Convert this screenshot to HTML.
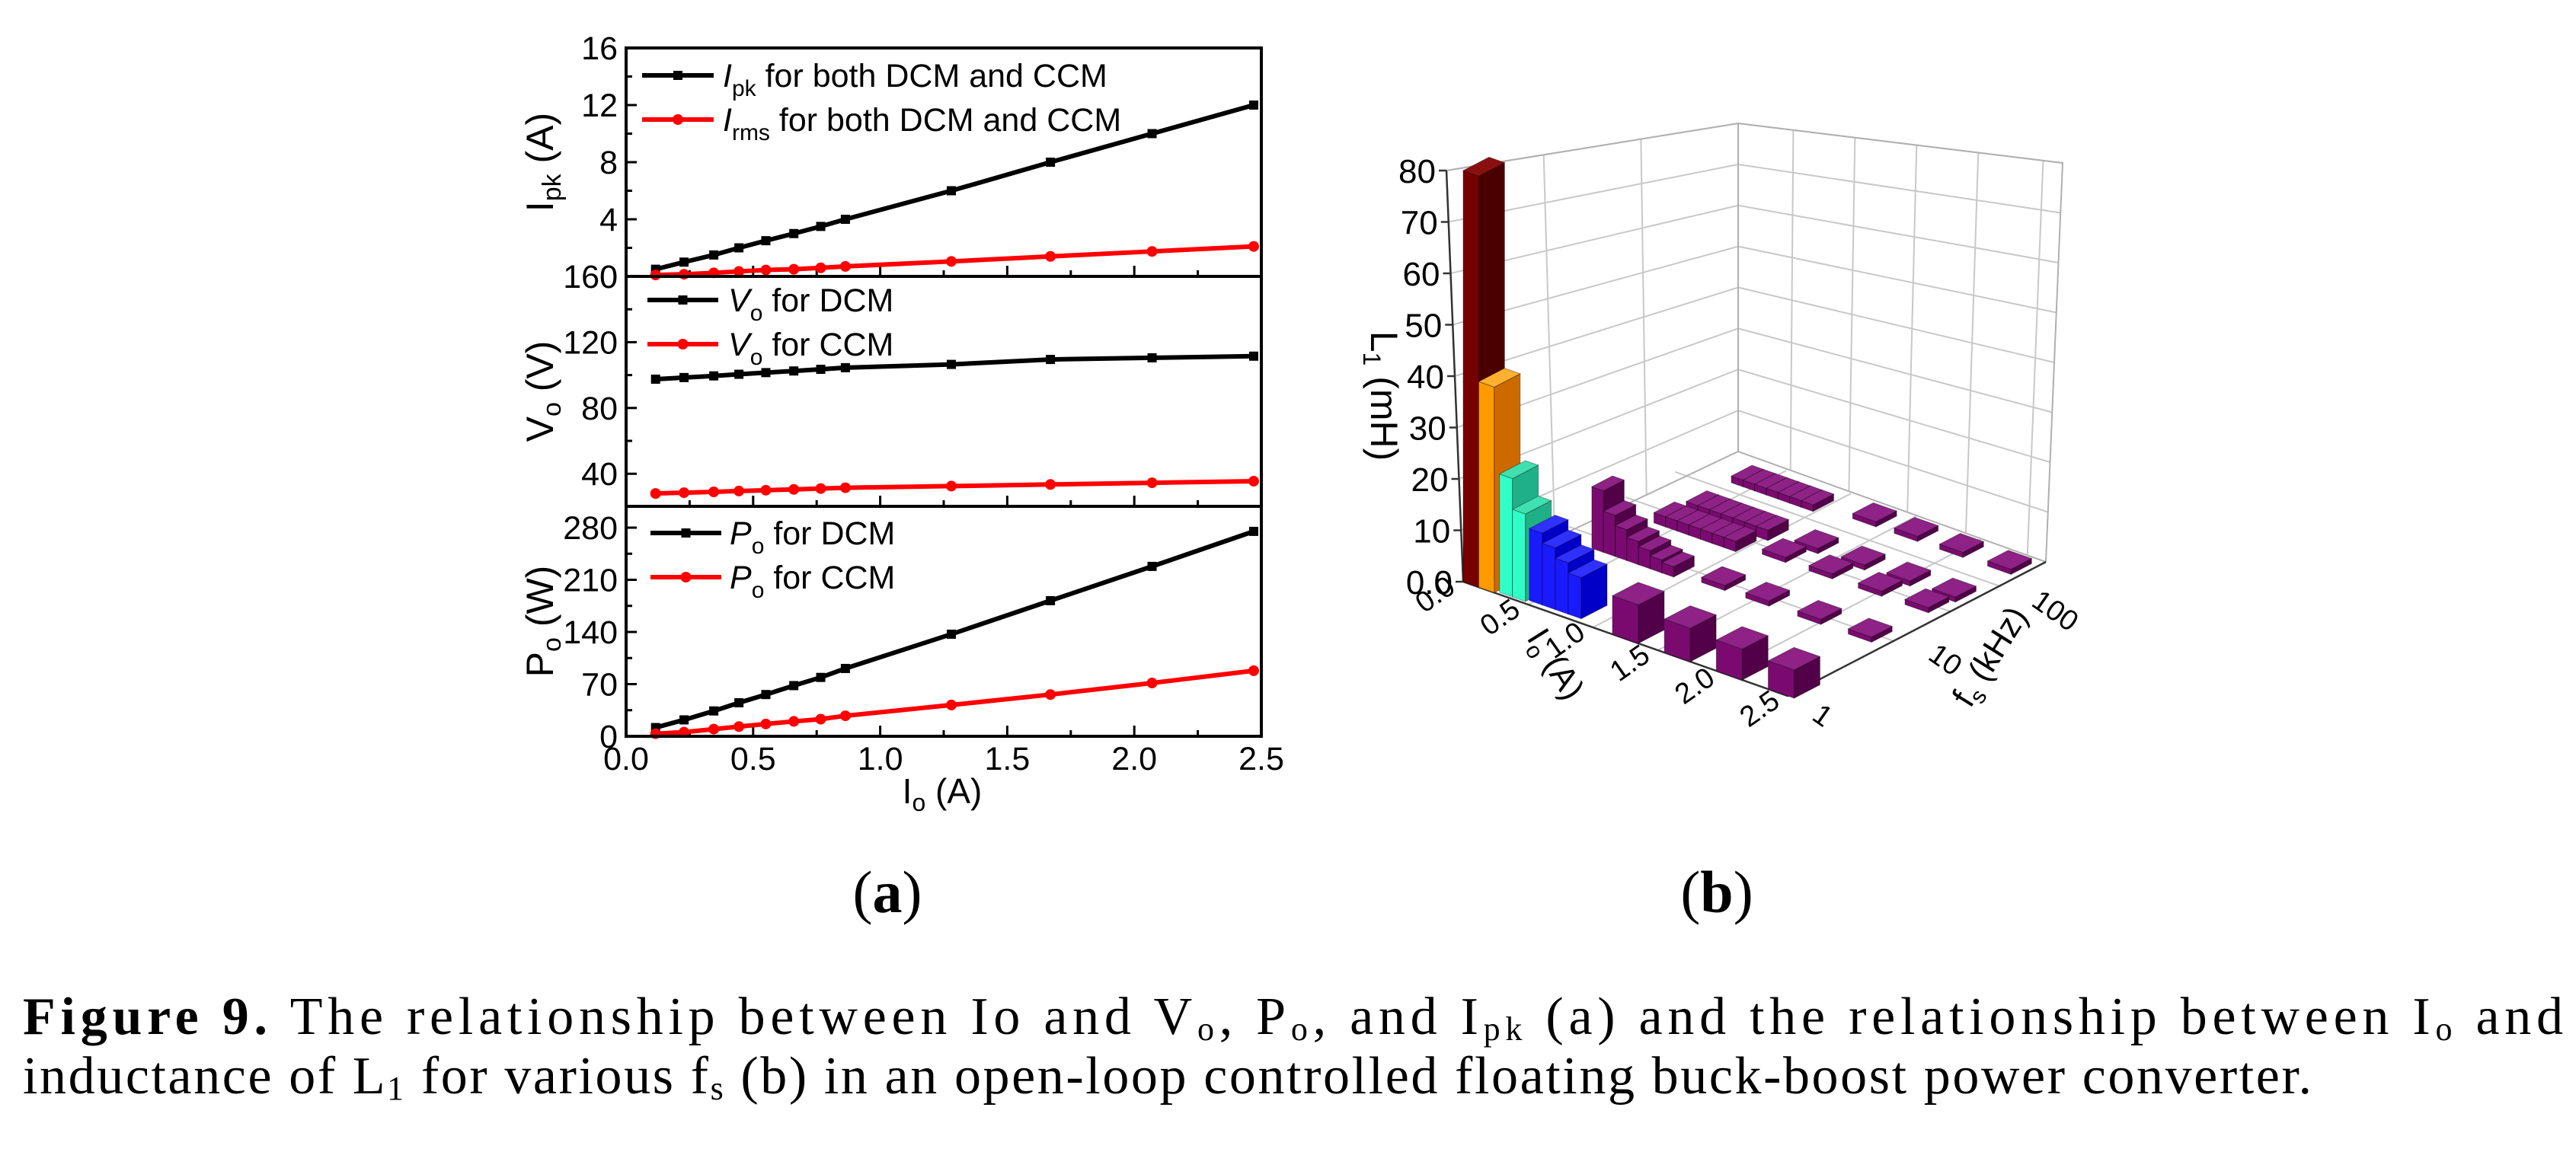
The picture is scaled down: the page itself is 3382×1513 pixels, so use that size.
<!DOCTYPE html>
<html><head><meta charset="utf-8"><style>
html,body{margin:0;padding:0;background:#fff;}
svg{display:block;font-family:"Liberation Sans",Arial,sans-serif;}
</style></head><body>
<svg id="fig" width="3382" height="1513" viewBox="0 0 3382 1513" xmlns="http://www.w3.org/2000/svg">
<rect x="0" y="0" width="3382" height="1513" fill="#fff"/>
<g id="chartA"></g>
<g id="chartB"></g>
<text x="1165" y="1198" font-family="Liberation Serif,serif" font-size="78" text-anchor="middle">(<tspan font-weight="bold">a</tspan>)</text>
<text x="2254" y="1198" font-family="Liberation Serif,serif" font-size="78" text-anchor="middle">(<tspan font-weight="bold">b</tspan>)</text>
<g font-family="Liberation Serif,serif" font-size="70">
<text x="30" y="1358" textLength="3335" lengthAdjust="spacing"><tspan font-weight="bold">Figure 9.</tspan> The relationship between Io and V<tspan font-size="44" dy="8">o</tspan><tspan dy="-8">, P</tspan><tspan font-size="44" dy="8">o</tspan><tspan dy="-8">, and I</tspan><tspan font-size="44" dy="8">pk</tspan><tspan dy="-8"> (a) and the relationship between I</tspan><tspan font-size="44" dy="8">o</tspan><tspan dy="-8"> and</tspan></text>
<text x="30" y="1436" textLength="3005" lengthAdjust="spacing">inductance of L<tspan font-size="44" dy="8">1</tspan><tspan dy="-8"> for various f</tspan><tspan font-size="44" dy="8">s</tspan><tspan dy="-8"> (b) in an open-loop controlled floating buck-boost power converter.</tspan></text>
</g>
</svg>
<script>
// ---------- Chart (a) data ----------
const ioValues = [0.116,0.228,0.345,0.444,0.55,0.66,0.766,0.863,1.28,1.67,2.07,2.47];
const ipkValues = [0.5,1,1.5,2,2.5,3,3.5,4,6,8,10,12];
const irmsValues = [0.1,0.15,0.25,0.35,0.45,0.5,0.6,0.7,1.05,1.4,1.75,2.1];
const voDcmValues = [97.5,98.5,99.5,100.5,101.5,102.5,103.5,104.5,106.5,109.5,110.5,111.5];
const voCcmValues = [28,28.5,29,29.5,30,30.5,31,31.5,32.5,33.5,34.5,35.5];
const poDcmValues = [11.7,22,34,45,56,68,79,91,137,182,228,275];
const poCcmValues = [3.4,5.5,9.6,13,16.5,20,23,27.5,42,56,71.5,88];
const xTicks = [0,0.5,1,1.5,2,2.5];
const ipkTicks = [4,8,12,16];
const voTicks = [40,80,120,160];
const poTicks = [0,70,140,210,280];

// ---------- Chart (b) data ----------
const barIo = [0.06,0.18,0.31,0.41,0.52,0.62,0.72,0.82, 1.25,1.65,2.05,2.45,
  0.34,0.43,0.52,0.61,0.70,0.79,0.88,
  0.40,0.49,0.58,0.67,0.76,0.85,0.94, 0.45,0.54,0.63,0.72,0.81,0.90,0.99,
  0.40,0.49,0.58,0.67,0.76,0.85,0.94,
  1.19,1.53,1.93,2.32, 1.22,1.58,1.96,2.32, 1.29,1.65,2.0,2.35, 1.32,1.64,1.99,2.36];
const barFs = [0.05,0.05,0.06,0.06,0.07,0.07,0.07,0.07, 0.05,0.05,0.05,0.05,
  0.39,0.39,0.39,0.39,0.39,0.39,0.39,
  0.6,0.6,0.6,0.6,0.6,0.6,0.6, 0.7,0.7,0.7,0.7,0.7,0.7,0.7,
  0.9,0.9,0.9,0.9,0.9,0.9,0.9,
  0.41,0.41,0.41,0.41, 0.63,0.63,0.63,0.63, 0.72,0.72,0.72,0.72, 0.93,0.93,0.93,0.93];
const barL1 = [80,40,23,17,14,12,10,8, 7.5,6.5,6,5.5,
  12,8,6,4.5,3.5,2.5,2,
  2,2,2,2,2,2,2, 2,2,2,2,2,2,2,
  1.3,1.3,1.3,1.3,1.3,1.3,1.3,
  1,1,1,1, 1,1,1,1, 1,1,1,1, 1,1,1,1];
const barGroup = ['darkred','orange','teal','teal','blue','blue','blue','blue','purple','purple','purple','purple',
  'purple','purple','purple','purple','purple','purple','purple',
  'purple','purple','purple','purple','purple','purple','purple','purple','purple','purple','purple','purple','purple','purple',
  'purple','purple','purple','purple','purple','purple','purple',
  'small','small','small','small','small','small','small','small','small','small','small','small','small','small','small','small'];
const zTicks = [0,10,20,30,40,50,60,70,80];
const zTickLabels = ['0.0','10','20','30','40','50','60','70','80'];
const ioTickLabels = ['0.0','0.5','1.0','1.5','2.0','2.5'];
const fsTickLabels = ['1','10','100'];

const NS = 'http://www.w3.org/2000/svg';
function mk(tag, attrs, parent){const e=document.createElementNS(NS,tag);for(const k in attrs)e.setAttribute(k,attrs[k]);parent.appendChild(e);return e;}

// ===== Chart A =====
const A = document.getElementById('chartA');
const XL=822, XR=1656;
const xs = v => XL + v/2.5*(XR-XL);
const panels = [
 {top:63,bot:363,min:0,max:16,ticks:ipkTicks,s1:ipkValues,s2:irmsValues,name:'ipk',title:'I',sub:'pk',unit:' (A)',
  leg:[['I','pk',' for both DCM and CCM'],['I','rms',' for both DCM and CCM']],ly:[99,157],lx:[843,937,949]},
 {top:363,bot:665,min:20.2,max:160,ticks:voTicks,s1:voDcmValues,s2:voCcmValues,name:'vo',title:'V',sub:'o',unit:' (V)',
  leg:[['V','o',' for DCM'],['V','o',' for CCM']],ly:[394,452],lx:[850,943,956]},
 {top:665,bot:967,min:0,max:308.6,ticks:poTicks,s1:poDcmValues,s2:poCcmValues,name:'po',title:'P',sub:'o',unit:' (W)',
  leg:[['P','o',' for DCM'],['P','o',' for CCM']],ly:[700,758],lx:[854,947,958]}
];
panels.forEach((p,pi)=>{
  const g = mk('g',{},A);
  
  
  const ys = v => p.bot - (v-p.min)/(p.max-p.min)*(p.bot-p.top);
  for(let i=0;i<p.ticks.length;i++){
    const y=ys(p.ticks[i]);
    mk('line',{x1:XL,x2:XL+14,y1:y,y2:y,stroke:'#000','stroke-width':3},g);
    const t=mk('text',{x:811,y:y+15,'font-size':43,'text-anchor':'end'},g);
    t.textContent=p.ticks[i];
    
    
    const step = p.ticks.length>1 ? p.ticks[1]-p.ticks[0] : 0;
    const my = ys(p.ticks[i]-step/2);
    if(my<p.bot && my>p.top) mk('line',{x1:XL,x2:XL+8,y1:my,y2:my,stroke:'#000','stroke-width':3},g);
  }
  if(pi===0){const t=mk('text',{x:811,y:p.bot+15,'font-size':43,'text-anchor':'end'},g);t.textContent='0';}
  xTicks.forEach(v=>{mk('line',{x1:xs(v),x2:xs(v),y1:p.bot,y2:p.bot-14,stroke:'#000','stroke-width':3},g);
    if(v<2.5) mk('line',{x1:xs(v+0.25),x2:xs(v+0.25),y1:p.bot,y2:p.bot-8,stroke:'#000','stroke-width':3},g);});
  const ser = [[p.s1,'#000','sq'],[p.s2,'#ff0000','ci']];
  ser.forEach((s,si)=>{
    const pts = ioValues.map((x,i)=>xs(x)+','+ys(s[0][i])).join(' ');
    const pl = mk('polyline',{points:pts,fill:'none',stroke:s[1],'stroke-width':6},g);
    
    
    ioValues.forEach((x,i)=>{
      let m;
      if(s[2]==='sq') m=mk('rect',{x:xs(x)-6,y:ys(s[0][i])-6,width:12,height:12,fill:s[1]},g);
      else m=mk('circle',{cx:xs(x),cy:ys(s[0][i]),r:7,fill:s[1]},g);
      
      
    });
    const ly=p.ly[si];
    mk('line',{x1:p.lx[0],x2:p.lx[1],y1:ly,y2:ly,stroke:s[1],'stroke-width':6},g);
    if(s[2]==='sq') mk('rect',{x:(p.lx[0]+p.lx[1])/2-6,y:ly-6,width:12,height:12,fill:s[1]},g);
    else mk('circle',{cx:(p.lx[0]+p.lx[1])/2,cy:ly,r:7,fill:s[1]},g);
    const lt=mk('text',{x:p.lx[2],y:ly+15,'font-size':43},g);
    
    
    const L=p.leg[si];
    lt.innerHTML='<tspan font-style="italic">'+L[0]+'</tspan><tspan font-size="30" dy="12">'+L[1]+'</tspan><tspan dy="-12">'+L[2]+'</tspan>';
  });
  const cy=(p.top+p.bot)/2;
  const yt=mk('text',{x:0,y:0,'font-size':50,'text-anchor':'middle',transform:'translate(726,'+cy+') rotate(-90)'},g);
  
  
  yt.innerHTML=p.title+'<tspan font-size="34" dy="10">'+p.sub+'</tspan><tspan dy="-10">'+p.unit+'</tspan>';
});
mk('rect',{x:XL,y:63,width:XR-XL,height:904,fill:'none',stroke:'#000','stroke-width':4},A);
mk('line',{x1:XL,x2:XR,y1:363,y2:363,stroke:'#000','stroke-width':4},A);
mk('line',{x1:XL,x2:XR,y1:665,y2:665,stroke:'#000','stroke-width':4},A);
xTicks.forEach(v=>{const t=mk('text',{x:xs(v),y:1011,'font-size':43,'text-anchor':'middle'},A);t.textContent=v.toFixed(1);
  });
const xt=mk('text',{x:1237,y:1055,'font-size':46,'text-anchor':'middle'},A);

xt.innerHTML='I<tspan font-size="32" dy="10">o</tspan><tspan dy="-10"> (A)</tspan>';

// ===== Chart B =====
const B = document.getElementById('chartB');
const Lc=[1921,764], Fc=[2347,914], Rc=[2686,738], Bc=[2282,593];
const Lt=[1899,224], Bt=[2282,162], Rt=[2708,214];
const ZS=6.75;
function P(io,f,z){return [Lc[0]+io/2.5*(Fc[0]-Lc[0])+f*(Rc[0]-Fc[0]), Lc[1]+io/2.5*(Fc[1]-Lc[1])+f*(Rc[1]-Fc[1])-z*ZS];}
const lerp=(a,b,t)=>[a[0]+(b[0]-a[0])*t,a[1]+(b[1]-a[1])*t];
const grid=mk('g',{stroke:'#c8c8c8','stroke-width':2,fill:'none'},B);

for(let k=1;k<=8;k++){const t=k/8;
  const a=lerp(Lc,Lt,t), b=lerp(Bc,Bt,t), c=lerp(Rc,Rt,t);
  mk('polyline',{points:a+' '+b+' '+c},grid);}
[1/3,2/3].forEach(t=>{const a=lerp(Lc,Bc,t),b=lerp(Lt,Bt,t);mk('line',{x1:a[0],y1:a[1],x2:b[0],y2:b[1]},grid);});
[0.17,0.36,0.55,0.74,0.94].forEach(t=>{const a=lerp(Bc,Rc,t),b=lerp(Bt,Rt,t);mk('line',{x1:a[0],y1:a[1],x2:b[0],y2:b[1]},grid);});
[0.5,1,1.5,2].forEach(io=>{const a=P(io,0,0),b=P(io,1,0);mk('line',{x1:a[0],y1:a[1],x2:b[0],y2:b[1]},grid);});
[0.41,0.63,0.82].forEach(f=>{const a=P(0,f,0),b=P(2.5,f,0);mk('line',{x1:a[0],y1:a[1],x2:b[0],y2:b[1]},grid);});
mk('polyline',{points:Lc+' '+Lt+' '+Bt+' '+Rt+' '+Rc,stroke:'#b0b0b0'},grid);
mk('line',{x1:Bc[0],y1:Bc[1],x2:Bt[0],y2:Bt[1],stroke:'#b0b0b0'},grid);
mk('polyline',{points:Lc+' '+Bc+' '+Rc,stroke:'#b0b0b0'},grid);
const ax=mk('g',{stroke:'#333','stroke-width':2.5,fill:'none'},B);
mk('line',{x1:Lc[0],y1:Lc[1],x2:Lt[0],y2:Lt[1]},ax);
mk('polyline',{points:Lc+' '+Fc+' '+Rc},ax);
const faceColors={darkred:['#760000','#4a0000','#8a1010'],orange:['#ff9a00','#cc6a00','#ffb030'],teal:['#30ffc8','#20b088','#40e0b0'],
 blue:['#1a1aff','#0000c8','#3030ff'],purple:['#7a0a70','#520048','#8e2286'],small:['#7a0a70','#520048','#8e2286']};
const sizes={darkred:[0.12,0.1],orange:[0.12,0.1],teal:[0.1,0.1],blue:[0.1,0.1],purple:[0.09,0.08],small:[0.18,0.08]};
const order=barIo.map((v,i)=>i).sort((a,b)=>(barIo[a]/2.5-barFs[a])-(barIo[b]/2.5-barFs[b]));
order.forEach(i=>{
  const grp=barGroup[i];
  let [w,d]=sizes[grp];
  if(grp==='purple' && barIo[i]>1.1) {w=0.2; d=0.1;}
  const io0=barIo[i]-w/2, io1=barIo[i]+w/2, f0=barFs[i]-d/2, f1=barFs[i]+d/2, h=barL1[i];
  const c=faceColors[grp];
  const g=mk('g',{stroke:'rgba(0,0,0,0.35)','stroke-width':1},B);
  
  
  const pp=a=>a.map(q=>q.join(',')).join(' ');
  mk('polygon',{points:pp([P(io0,f0,0),P(io1,f0,0),P(io1,f0,h),P(io0,f0,h)]),fill:c[0]},g);
  mk('polygon',{points:pp([P(io1,f0,0),P(io1,f1,0),P(io1,f1,h),P(io1,f0,h)]),fill:c[1]},g);
  mk('polygon',{points:pp([P(io0,f0,h),P(io1,f0,h),P(io1,f1,h),P(io0,f1,h)]),fill:c[2]},g);
});
zTicks.forEach((z,i)=>{const y=Lc[1]-z*ZS, x=Lc[0]+(Lt[0]-Lc[0])*z/80;
  mk('line',{x1:x-10,x2:x,y1:y,y2:y,stroke:'#333','stroke-width':2.5},B);
  const t=mk('text',{x:x-14,y:y+16,'font-size':44,'text-anchor':'end'},B);
  t.textContent=zTickLabels[i];
  });
const zt=mk('text',{x:0,y:0,'font-size':50,'text-anchor':'middle',transform:'translate(1800,520) rotate(90)'},B);

zt.innerHTML='L<tspan font-size="32" dy="10">1</tspan><tspan dy="-10"> (mH)</tspan>';
ioTickLabels.forEach((s,i)=>{const p=P(i*0.5,0,0);
  const t=mk('text',{x:0,y:0,'font-size':38,'text-anchor':'end',transform:'translate('+(p[0]-8)+','+(p[1]+12)+') rotate(-35)'},B);
  t.textContent=s;});
const it=mk('text',{x:0,y:0,'font-size':44,'text-anchor':'middle',transform:'translate(2030,880) rotate(58)'},B);

it.innerHTML='I<tspan font-size="30" dy="10">o</tspan><tspan dy="-10"> (A)</tspan>';
const fsPos=[0,0.45,0.85];
fsTickLabels.forEach((s,i)=>{const p=P(2.5,fsPos[i],0);
  const t=mk('text',{x:0,y:0,'font-size':38,'text-anchor':'start',transform:'translate('+(p[0]+30)+','+(p[1]+30)+') rotate(35)'},B);
  t.textContent=s;});
const ft=mk('text',{x:0,y:0,'font-size':44,'text-anchor':'middle',transform:'translate(2625,870) rotate(-58)'},B);

ft.innerHTML='f<tspan font-size="30" dy="10">s</tspan><tspan dy="-10"> (kHz)</tspan>';
</script>
</body></html>
